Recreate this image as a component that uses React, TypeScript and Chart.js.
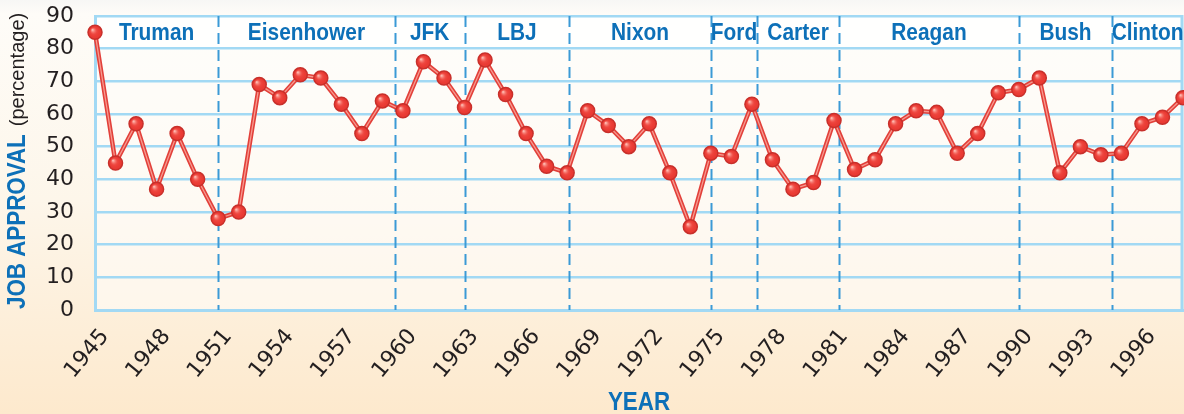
import React, { useEffect, useRef } from "react";
import { Chart, registerables } from "chart.js";

Chart.register(...registerables);

const years = [
  1945, 1946, 1947, 1948, 1949, 1950, 1951, 1952, 1953, 1954,
  1955, 1956, 1957, 1958, 1959, 1960, 1961, 1962, 1963, 1964,
  1965, 1966, 1967, 1968, 1969, 1970, 1971, 1972, 1973, 1974,
  1975, 1976, 1977, 1978, 1979, 1980, 1981, 1982, 1983, 1984,
  1985, 1986, 1987, 1988, 1989, 1990, 1991, 1992, 1993, 1994,
  1995, 1996, 1997, 1998,
];

const approval = [
  85, 45, 57, 37, 54, 40, 28, 30, 69, 65,
  72, 71, 63, 54, 64, 61, 76, 71, 62, 76.5,
  66, 54, 44, 42, 61, 56.5, 50, 57, 42, 25.5,
  48, 47, 63, 46, 37, 39, 58, 43, 46, 57,
  61, 60.5, 48, 54, 66.5, 67.5, 71, 42, 50, 47.5,
  48, 57, 59, 65,
];

const tickYears = [1945, 1948, 1951, 1954, 1957, 1960, 1963, 1966, 1969, 1972, 1975, 1978, 1981, 1984, 1987, 1990, 1993, 1996];

const presidents = ["Truman", "Eisenhower", "JFK", "LBJ", "Nixon", "Ford", "Carter", "Reagan", "Bush", "Clinton"];
const termBounds = [1945, 1951, 1959.6, 1963, 1968.1, 1975, 1977.25, 1981.25, 1990, 1994.55, 1998];

const BLUE = "#0d70b8";
const GRID = "#a2d9f4";
const DASH = "#3b9ad6";
const TICK_FONT = "'DejaVu Sans', 'Liberation Sans', sans-serif";
const TITLE_FONT = "'Liberation Sans', Arial, sans-serif";
const SQUEEZE = 0.86;

function condensedText(ctx: any, text: string, x: number, y: number, squeeze: number) {
  ctx.save();
  ctx.translate(x, y);
  ctx.scale(squeeze, 1);
  ctx.fillText(text, 0, 0);
  ctx.restore();
}

const decor = {
  id: "decor",
  beforeDraw(chart: any) {
    const { ctx, chartArea: a, scales } = chart;
    const ys = scales.y;
    ctx.save();
    ctx.fillStyle = "rgba(255,255,255,0.45)";
    ctx.fillRect(a.left, a.top, a.right - a.left, a.bottom - a.top);
    const y90 = ys.getPixelForValue(90);
    const y80 = ys.getPixelForValue(80);
    ctx.fillStyle = "rgba(255,255,255,0.75)";
    ctx.fillRect(a.left, y90, a.right - a.left, y80 - y90);
    ctx.restore();
  },
  beforeDatasetsDraw(chart: any) {
    const { ctx, chartArea: a, scales } = chart;
    const xs = scales.x;
    const ys = scales.y;
    ctx.save();
    ctx.strokeStyle = DASH;
    ctx.lineWidth = 2;
    ctx.setLineDash([11, 6]);
    for (let i = 1; i < termBounds.length - 1; i++) {
      const x = Math.round(xs.getPixelForValue(termBounds[i])) + 0.5;
      ctx.beginPath();
      ctx.moveTo(x, a.top);
      ctx.lineTo(x, a.bottom);
      ctx.stroke();
    }
    ctx.setLineDash([]);
    ctx.strokeStyle = GRID;
    ctx.lineWidth = 3;
    ctx.beginPath();
    ctx.moveTo(a.right - 1, a.top - 1);
    ctx.lineTo(a.right - 1, a.bottom + 1);
    ctx.stroke();
    ctx.fillStyle = BLUE;
    ctx.font = "bold 24px " + TITLE_FONT;
    ctx.textAlign = "center";
    ctx.textBaseline = "middle";
    const yName = ys.getPixelForValue(85) + 1;
    for (let i = 0; i < presidents.length; i++) {
      const x0 = xs.getPixelForValue(termBounds[i]);
      const x1 = xs.getPixelForValue(termBounds[i + 1]);
      condensedText(ctx, presidents[i], (x0 + x1) / 2, yName, 0.87);
    }
    ctx.restore();
  },
  afterDatasetsDraw(chart: any) {
    const { ctx } = chart;
    const meta = chart.getDatasetMeta(2);
    ctx.save();
    meta.data.forEach((pt: any) => {
      const g = ctx.createRadialGradient(pt.x - 2.5, pt.y - 2.5, 0.5, pt.x, pt.y, 7);
      g.addColorStop(0, "rgba(255,190,180,0.95)");
      g.addColorStop(0.45, "rgba(245,90,82,0.4)");
      g.addColorStop(1, "rgba(220,40,35,0)");
      ctx.fillStyle = g;
      ctx.beginPath();
      ctx.arc(pt.x, pt.y, 6, 0, Math.PI * 2);
      ctx.fill();
    });
    ctx.restore();
  },
  afterDraw(chart: any) {
    const { ctx, chartArea: a } = chart;
    ctx.save();
    ctx.translate(18, 0);
    ctx.rotate(-Math.PI / 2);
    ctx.textBaseline = "middle";
    ctx.textAlign = "left";
    const t1 = "JOB APPROVAL";
    const t2 = "(percentage)";
    const f1 = "bold 26px " + TITLE_FONT;
    const f2 = "20px " + TITLE_FONT;
    ctx.font = f1;
    const w1 = ctx.measureText(t1).width * SQUEEZE;
    const gap = 8;
    const startY = 309;
    ctx.fillStyle = BLUE;
    condensedText(ctx, t1, -startY, 0, SQUEEZE);
    ctx.font = f2;
    ctx.fillStyle = "#231f20";
    ctx.fillText(t2, -startY + w1 + gap, 0);
    ctx.restore();
    ctx.save();
    ctx.font = "bold 26px " + TITLE_FONT;
    ctx.fillStyle = BLUE;
    ctx.textAlign = "center";
    ctx.textBaseline = "middle";
    condensedText(ctx, "YEAR", (a.left + a.right) / 2, 403, SQUEEZE);
    ctx.restore();
  },
};

export default function App() {
  const ref = useRef<HTMLCanvasElement>(null);
  useEffect(() => {
    document.body.style.margin = "0";
    const pts = years.map((yr, i) => ({ x: yr, y: approval[i] }));
    const chart = new Chart(ref.current!, {
      type: "line",
      data: {
        datasets: [
          {
            data: pts,
            borderColor: "#e2403a",
            borderWidth: 4.5,
            pointRadius: 0,
            clip: false,
            order: 3,
          },
          {
            data: pts,
            borderColor: "#f79a90",
            borderWidth: 1.3,
            pointRadius: 0,
            clip: false,
            order: 2,
          },
          {
            data: pts,
            showLine: false,
            pointRadius: 7,
            pointBackgroundColor: "#ea3a33",
            pointBorderColor: "#c8302b",
            pointBorderWidth: 1.5,
            clip: false,
            order: 1,
          },
        ],
      },
      options: {
        animation: false,
        responsive: false,
        devicePixelRatio: 1,
        layout: { autoPadding: false, padding: { left: 0, top: 16, right: 1, bottom: 0 } },
        plugins: { legend: { display: false }, tooltip: { enabled: false } },
        scales: {
          x: {
            type: "linear",
            min: 1945,
            max: 1998,
            afterBuildTicks: (scale: any) => {
              scale.ticks = tickYears.map((v) => ({ value: v }));
            },
            afterFit: (scale: any) => {
              scale.height = 104;
              scale.paddingLeft = 0;
              scale.paddingRight = 0;
              scale.paddingTop = 0;
              scale.paddingBottom = 0;
            },
            grid: { display: false, drawTicks: false },
            border: { display: true, color: GRID, width: 3 },
            ticks: {
              autoSkip: false,
              minRotation: 50,
              maxRotation: 50,
              padding: 14,
              labelOffset: 10,
              color: "#231f20",
              font: { family: TICK_FONT, size: 22 },
              callback: (v: any) => String(v),
            },
          },
          y: {
            min: 0,
            max: 90,
            afterFit: (scale: any) => {
              scale.width = 95;
              scale.paddingTop = 0;
              scale.paddingBottom = 0;
              scale.paddingLeft = 0;
              scale.paddingRight = 0;
            },
            grid: { color: GRID, lineWidth: 2.5, drawTicks: false },
            border: { display: true, color: GRID, width: 3 },
            ticks: {
              stepSize: 10,
              padding: 21,
              color: "#231f20",
              font: { family: TICK_FONT, size: 22 },
            },
          },
        },
      },
      plugins: [decor],
    });
    return () => chart.destroy();
  }, []);
  return (
    <div
      style={{
        width: 1184,
        height: 414,
        background: "linear-gradient(to bottom, #f7f7f5 0px, #fefcf8 14px, #fdf6ea 200px, #fde9cd 414px)",
      }}
    >
      <canvas ref={ref} width={1184} height={414} style={{ display: "block" }} />
    </div>
  );
}
